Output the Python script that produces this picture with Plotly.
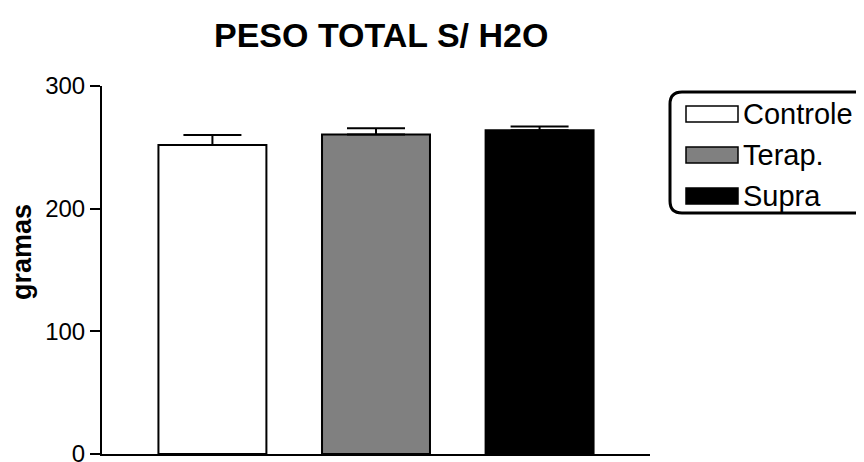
import plotly.graph_objects as go

categories = ["Controle", "Terap.", "Supra"]
means = [252, 260.5, 264]
sem = [8, 5, 3]
colors = ["#ffffff", "#808080", "#000000"]
y_ticks = [0, 100, 200, 300]

FONT = "Arial, Liberation Sans, sans-serif"
OFF = 8  # page body margin
W, H = 864 - OFF, 490 - OFF  # taller than window: bottom part is cut off like the reference
# plot area in reference pixel coordinates
PX0, PX1, PY0, PY1 = 102, 650, 86, 454
L, R = PX0 - OFF, W - (PX1 - OFF)
T, B = PY0 - OFF, H - (PY1 - OFF)

fig = go.Figure()
fig.add_trace(go.Bar(
    x=categories, y=means, width=0.66,
    marker=dict(color=colors, line=dict(color="black", width=2)),
    error_y=dict(type="data", array=sem, arrayminus=[0] * len(sem), symmetric=False,
                 color="black", thickness=2, width=29),
    showlegend=False,
))

fig.update_layout(
    width=W, height=H, autosize=False,
    margin=dict(l=L, r=R, t=T, b=B),
    paper_bgcolor="white", plot_bgcolor="white",
    font=dict(family=FONT, color="black"),
    xaxis=dict(range=[-0.675, 2.675], showline=True, linecolor="black", linewidth=2,
               showticklabels=False, ticks="", showgrid=False, zeroline=False),
    yaxis=dict(range=[0, 300], tickvals=y_ticks, showline=True, linecolor="black", linewidth=2,
               ticks="outside", ticklen=10, tickwidth=2, tickcolor="black",
               tickfont=dict(size=24, family=FONT), showgrid=False, zeroline=False),
)

pw = PX1 - PX0
ph = PY1 - PY0
def px(x): return (x - PX0) / pw
def py(y): return (PY1 - y) / ph

# title
fig.add_annotation(text="<b>PESO TOTAL S/ H2O</b>", xref="paper", yref="paper",
                   x=px(381), y=py(35), showarrow=False, xanchor="center", yanchor="middle",
                   font=dict(size=34, family=FONT))
# y title
fig.add_annotation(text="<b>gramas</b>", xref="paper", yref="paper",
                   x=px(22), y=py(252), showarrow=False, textangle=-90,
                   xanchor="center", yanchor="middle", font=dict(size=27, family=FONT))

# legend box (rounded)
x0, x1, y0, y1 = px(670), px(880), py(92), py(213)
r, ry = 12 / pw, 12 / ph
path = (f"M {x0+r},{y0} L {x1-r},{y0} Q {x1},{y0} {x1},{y0-ry} L {x1},{y1+ry} "
        f"Q {x1},{y1} {x1-r},{y1} L {x0+r},{y1} Q {x0},{y1} {x0},{y1+ry} "
        f"L {x0},{y0-ry} Q {x0},{y0} {x0+r},{y0} Z")
fig.add_shape(type="path", path=path, xref="paper", yref="paper",
              line=dict(color="black", width=3), fillcolor="white")
rows = [114, 155, 196]
for cat, col, yc in zip(categories, colors, rows):
    fig.add_shape(type="rect", xref="paper", yref="paper",
                  x0=px(686), x1=px(738), y0=py(yc - 8), y1=py(yc + 8),
                  line=dict(color="black", width=1.5), fillcolor=col)
    fig.add_annotation(text=cat, xref="paper", yref="paper", x=px(741), y=py(yc),
                       xanchor="left", yanchor="middle", showarrow=False,
                       font=dict(size=29, family=FONT))

fig.write_html("out.html")
